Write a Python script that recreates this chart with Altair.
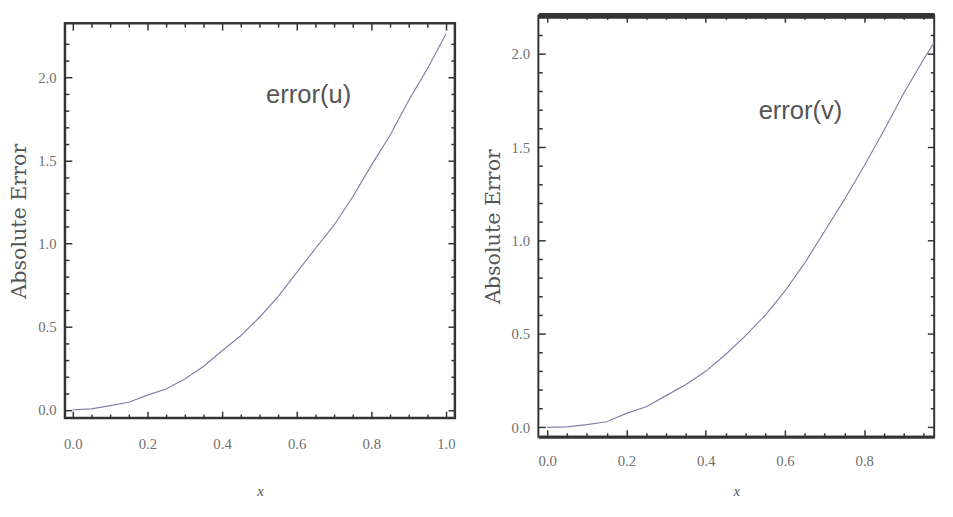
import altair as alt
import pandas as pd

# ---- data ----
x_vals = [0.0, 0.05, 0.10, 0.15, 0.20, 0.25, 0.30, 0.35, 0.40, 0.45, 0.50,
          0.55, 0.60, 0.65, 0.70, 0.75, 0.80, 0.85, 0.90, 0.95, 1.00]
u_err = [0.0, 0.005, 0.025, 0.045, 0.088, 0.125, 0.185, 0.26, 0.355, 0.445, 0.555,
         0.68, 0.825, 0.97, 1.11, 1.28, 1.47, 1.65, 1.86, 2.05, 2.26]
v_err = [0.0, 0.003, 0.015, 0.03, 0.075, 0.11, 0.17, 0.23, 0.30, 0.39, 0.49,
         0.60, 0.73, 0.88, 1.05, 1.22, 1.40, 1.59, 1.79, 1.97, 2.14]

x_major_left = [0.0, 0.2, 0.4, 0.6, 0.8, 1.0]
x_major_right = [0.0, 0.2, 0.4, 0.6, 0.8]
x_minor = [0.05, 0.10, 0.15, 0.25, 0.30, 0.35, 0.45, 0.50, 0.55, 0.65, 0.70, 0.75,
           0.85, 0.90, 0.95]
y_major = [0.0, 0.5, 1.0, 1.5, 2.0]
y_minor = [0.1, 0.2, 0.3, 0.4, 0.6, 0.7, 0.8, 0.9, 1.1, 1.2, 1.3, 1.4,
           1.6, 1.7, 1.8, 1.9, 2.1, 2.2]

labels = ["error(u)", "error(v)"]
label_pos_x = [0.632, 0.639]
label_pos_y = [1.894, 1.695]

SERIF = "Liberation Serif"
FRAME = "#333333"
LINE = "#8080a8"


def panel(err, label, lx, ly, xdom, ydom, w, h, x_major, lab_pad_x, title_pad_x,
          frame_w, extra_top=None, extra_bottom=None):
    df = pd.DataFrame({"x": x_vals, "err": err})
    xs = alt.Scale(domain=xdom, nice=False, zero=False)
    ys = alt.Scale(domain=ydom, nice=False, zero=False)
    base = alt.Chart(df)

    line = base.mark_line(clip=True, color=LINE, strokeWidth=1.2).encode(
        x=alt.X("x:Q", scale=xs, axis=None),
        y=alt.Y("err:Q", scale=ys, axis=None),
    )
    txt = alt.Chart(pd.DataFrame({"x": [lx], "y": [ly], "t": [label]})).mark_text(
        font="Liberation Sans", fontSize=26, color="#555555"
    ).encode(
        x=alt.X("x:Q", scale=xs, axis=None),
        y=alt.Y("y:Q", scale=ys, axis=None),
        text="t:N",
    )

    def axes_layer(xorient, yorient, xvals, yvals, size, main):
        xa = dict(orient=xorient, values=xvals, tickSize=size, offset=-size,
                  domain=False, grid=False, tickColor=FRAME, tickWidth=1.5)
        ya = dict(orient=yorient, values=yvals, tickSize=size, offset=-size,
                  domain=False, grid=False, tickColor=FRAME, tickWidth=1.5)
        if main:
            xa.update(format=".1f", labelFont=SERIF, labelFontSize=15, labelColor="#707070",
                      labelPadding=lab_pad_x, title="x", titleFont=SERIF,
                      titleFontStyle="italic", titleFontWeight="normal",
                      titleFontSize=15, titleColor="#555555", titlePadding=title_pad_x)
            ya.update(format=".1f", labelFont=SERIF, labelFontSize=15, labelColor="#707070",
                      labelPadding=9, title="Absolute Error", titleFont="DejaVu Serif",
                      titleFontWeight="normal", titleFontSize=21, titleColor="#555555",
                      titlePadding=8)
        else:
            xa.update(labels=False, title=None)
            ya.update(labels=False, title=None)
        return base.mark_line(strokeOpacity=0).encode(
            x=alt.X("x:Q", scale=xs, axis=alt.Axis(**xa)),
            y=alt.Y("err:Q", scale=ys, axis=alt.Axis(**ya)),
        )

    layers = [
        axes_layer("bottom", "left", x_major, y_major, 7, True),
        axes_layer("bottom", "left", x_minor, y_minor, 4, False),
        axes_layer("top", "right", x_major, y_major, 7, False),
        axes_layer("top", "right", x_minor, y_minor, 4, False),
    ]
    extras = []
    if extra_top:
        extras.append(("top", extra_top))
    if extra_bottom:
        extras.append(("bottom", extra_bottom))
    for orient, wdt in extras:
        layers.append(base.mark_line(strokeOpacity=0).encode(
            x=alt.X("x:Q", scale=xs, axis=alt.Axis(orient=orient, domain=True,
                    domainColor=FRAME, domainWidth=wdt, ticks=False, labels=False,
                    grid=False, title=None)),
            y=alt.Y("err:Q", scale=ys, axis=None),
        ))
    layers += [line, txt]
    return alt.layer(*layers).resolve_axis(x="independent", y="independent").properties(
        width=w, height=h,
        view=alt.ViewBackground(stroke=FRAME, strokeWidth=frame_w),
    )


left = panel(u_err, labels[0], label_pos_x[0], label_pos_y[0],
             [-0.021, 1.024], [-0.050, 2.325], 397, 402, x_major_left, 19, 33, 2.5)
right = panel(v_err, labels[1], label_pos_x[1], label_pos_y[1],
              [-0.0223, 0.9765], [-0.050, 2.205], 403, 429, x_major_right, 17, 16, 2,
              extra_top=6, extra_bottom=3)

# empty spacer that lowers the left panel relative to the right one
spacer = alt.Chart(pd.DataFrame({"a": [0]})).mark_point(size=1, opacity=0).encode(
    x=alt.X("a:Q", axis=None), y=alt.Y("a:Q", axis=None)
).properties(width=10, height=1, view=alt.ViewBackground(strokeOpacity=0))

left_col = alt.vconcat(spacer, left, spacing=5)

chart = alt.hconcat(left_col, right, spacing=25).properties(
    padding={"left": 0, "top": 1, "right": 0, "bottom": 0},
    background="white",
)

chart.save("out.html", embed_options={"renderer": "svg", "actions": False})
